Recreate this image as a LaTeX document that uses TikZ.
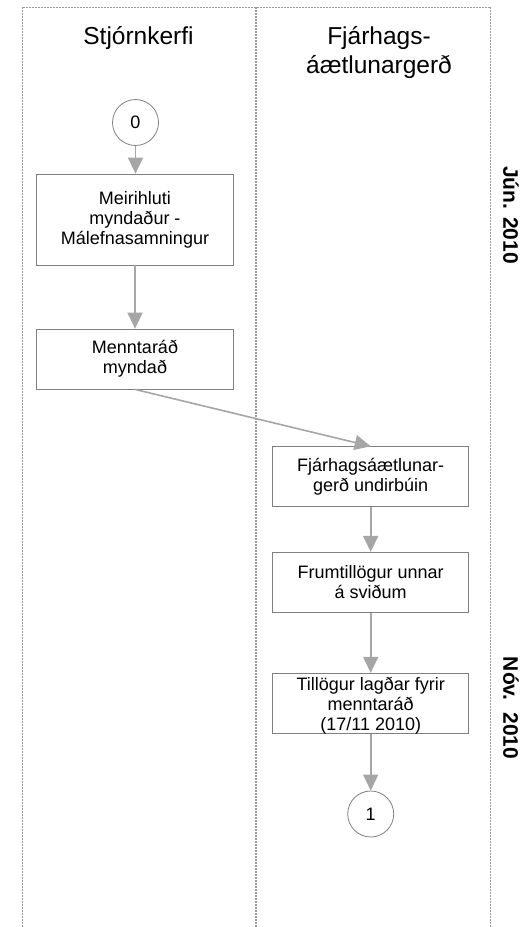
\documentclass[tikz,border=0pt]{standalone}
\usepackage{fontspec}
\setmainfont{Liberation Sans}
\usetikzlibrary{arrows.meta,shapes.geometric}
\definecolor{lanegray}{RGB}{155,155,155}
\definecolor{arrowgray}{RGB}{166,166,166}
\definecolor{boxgray}{RGB}{128,128,128}
\tikzset{
  lane/.style={draw=lanegray,line width=1pt,dash pattern=on 2pt off 1pt},
  stepbox/.style={draw=boxgray,line width=0.8pt,rectangle,minimum width=196pt,minimum height=60pt,inner sep=0pt,align=center,font=\fontsize{18}{20}\selectfont},
  conn/.style={draw=boxgray,line width=0.8pt,circle,minimum size=46pt,inner sep=0pt,font=\fontsize{18}{20}\selectfont},
  flow/.style={draw=arrowgray,line width=1.6pt,-{Triangle[width=15pt,length=16pt]}},
  lanetitle/.style={align=center,font=\fontsize{24.5}{29}\selectfont},
  period/.style={rotate=-90,font=\bfseries\fontsize{21}{24}\selectfont},
  txt/.style={align=center,inner sep=0pt,font=\fontsize{18}{20}\selectfont}
}
\begin{document}
\begin{tikzpicture}[x=1pt,y=-1pt]
\useasboundingbox (0,0) rectangle (521,927);
% swimlanes
\coordinate (tl) at (22,7);
\coordinate (tm) at (256,7);
\coordinate (tr) at (490.7,7);
\coordinate (bl) at (22,927);
\coordinate (bm) at (256,927);
\coordinate (br) at (490.7,927);
\draw[lane] (bl) -- (tl) -- (tr) -- (br);
\draw[lane,line width=1.3pt] (tm) -- (bm);
% titles
\node[lanetitle] (t1) at (138.5,38) {Stjórnkerfi};
\node[lanetitle] (t2) at (379,53) {Fjárhags-\\áætlunargerð};
% period labels
\node[period] (p1) at (511,215) {Jún. 2010};
\node[period] (p2) at (511,708) {Nóv.\ \ 2010};
% nodes
\node[conn] (c0) at (135.5,122.5) {0};
\node[stepbox,minimum width=197pt,minimum height=91pt] (b1) at (135,219.5) {Meirihluti\\myndaður -\\Málefnasamningur};
\node[stepbox,minimum width=197pt] (b2) at (135,359) {Menntaráð\\myndað};
\node[stepbox] (b3) at (370.7,476.7) {Fjárhagsáætlunar-\\gerð undirbúin};
\node[stepbox] (b4) at (370.7,582.3) {Frumtillögur unnar\\á sviðum};
\node[stepbox] (b5) at (370.7,703.3) {};
\node[txt] (b5t) at (370.7,706) {Tillögur lagðar fyrir\\menntaráð\\(17/11 2010)};
\node[conn] (c1) at (370.7,814) {1};
% connectors
\draw[flow] (c0.south) -- (c0.south |- b1.north);
\draw[flow] (b1.south) -- (b2.north);
\draw[flow] (b2.south) -- (b3.north);
\draw[flow] (b3.south) -- (b4.north);
\draw[flow] (b4.south) -- (b5.north);
\draw[flow] (b5.south) -- (c1.north);
\end{tikzpicture}
\end{document}
